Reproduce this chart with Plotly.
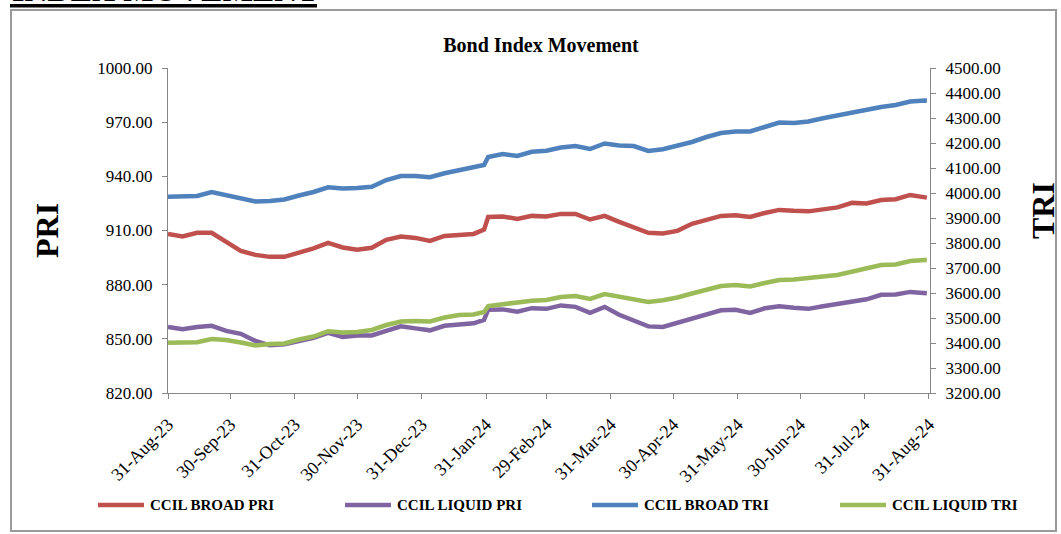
import plotly.graph_objects as go

dates = [
    "2023-08-31", "2023-09-07", "2023-09-14", "2023-09-21", "2023-09-28",
    "2023-10-05", "2023-10-12", "2023-10-19", "2023-10-26", "2023-11-02",
    "2023-11-09", "2023-11-16", "2023-11-23", "2023-11-30", "2023-12-07",
    "2023-12-14", "2023-12-21", "2023-12-28", "2024-01-04", "2024-01-11",
    "2024-01-18", "2024-01-25", "2024-01-30", "2024-02-01", "2024-02-08",
    "2024-02-15", "2024-02-22", "2024-02-29", "2024-03-07", "2024-03-14",
    "2024-03-21", "2024-03-28", "2024-04-04", "2024-04-11", "2024-04-18",
    "2024-04-25", "2024-05-02", "2024-05-09", "2024-05-16", "2024-05-23",
    "2024-05-30", "2024-06-06", "2024-06-13", "2024-06-20", "2024-06-27",
    "2024-07-04", "2024-07-11", "2024-07-18", "2024-07-25", "2024-08-01",
    "2024-08-08", "2024-08-15", "2024-08-22", "2024-08-29", "2024-08-30",
]

broad_pri = [
    908.1, 906.7, 908.7, 908.7, 903.7, 898.7, 896.5, 895.4, 895.4, 897.6,
    900.1, 903.1, 900.6, 899.3, 900.4, 904.8, 906.7, 905.9, 904.2, 907.0,
    907.3, 908.1, 910.5, 917.5, 917.8, 916.4, 918.1, 917.8, 919.2, 919.2,
    916.1, 918.1, 914.8, 912.0, 908.7, 908.4, 909.8, 913.7, 915.6, 918.1,
    918.4, 917.5, 919.7, 921.4, 920.9, 920.6, 921.7, 922.8, 925.3, 925.0,
    926.9, 927.3, 929.7, 928.6, 928.2,
]

liquid_pri = [
    856.5, 855.3, 856.6, 857.2, 854.4, 852.8, 848.9, 846.4, 847.0, 848.6,
    850.6, 853.3, 851.1, 851.9, 851.9, 854.4, 856.9, 855.8, 854.7, 857.2,
    857.7, 858.6, 860.5, 866.1, 866.3, 865.0, 867.0, 866.6, 868.5, 867.7,
    864.4, 867.7, 863.3, 860.2, 856.9, 856.6, 858.9, 861.3, 863.8, 865.8,
    866.1, 864.4, 866.9, 868.0, 867.2, 866.6, 868.0, 869.4, 871.0, 871.9,
    874.4, 874.6, 876.0, 875.5, 875.3,
]

broad_tri = [
    3985, 3986, 3988, 4004, 3992, 3976, 3966, 3968, 3974, 3990,
    4004, 4023, 4018, 4020, 4025, 4052, 4068, 4068, 4063, 4079,
    4092, 4102, 4112, 4144, 4156, 4148, 4165, 4169, 4182, 4188,
    4176, 4198, 4190, 4188, 4168, 4175, 4188, 4204, 4224, 4240,
    4246, 4246, 4264, 4282, 4280, 4286, 4299, 4310, 4324, 4334,
    4344, 4352, 4366, 4370, 4369,
]

liquid_tri = [
    3401, 3401, 3403, 3416, 3412, 3402, 3390, 3396, 3398, 3414,
    3426, 3447, 3442, 3444, 3452, 3472, 3486, 3488, 3486, 3502,
    3512, 3514, 3524, 3548, 3556, 3562, 3569, 3572, 3584, 3588,
    3576, 3596, 3584, 3574, 3564, 3571, 3582, 3598, 3612, 3628,
    3632, 3626, 3640, 3652, 3654, 3658, 3666, 3672, 3686, 3699,
    3712, 3714, 3728, 3732, 3732,
]

tick_dates = [
    "2023-08-31", "2023-09-30", "2023-10-31", "2023-11-30", "2023-12-31",
    "2024-01-31", "2024-02-29", "2024-03-31", "2024-04-30", "2024-05-31",
    "2024-06-30", "2024-07-31", "2024-08-31",
]
tick_labels = [
    "31-Aug-23", "30-Sep-23", "31-Oct-23", "30-Nov-23", "31-Dec-23",
    "31-Jan-24", "29-Feb-24", "31-Mar-24", "30-Apr-24", "31-May-24",
    "30-Jun-24", "31-Jul-24", "31-Aug-24",
]

series_names = ["CCIL BROAD PRI", "CCIL LIQUID PRI", "CCIL BROAD TRI", "CCIL LIQUID TRI"]
series_colors = ["#C0504D", "#8064A2", "#4F81BD", "#9BBB59"]

FONT = "Liberation Serif"
AX = "#868686"

W, H = 1061, 534
L, R, T, B = 168, 131, 68, 141
PW = W - L - R
PH = H - T - B


def px_x(x):
    return (x - L) / PW


def px_y(y):
    return (H - B - y) / PH


fig = go.Figure()
series_values = [broad_pri, liquid_pri, broad_tri, liquid_tri]
series_axes = ["y", "y", "y2", "y2"]
for name, vals, col, ax in zip(series_names, series_values, series_colors, series_axes):
    fig.add_trace(go.Scatter(x=dates, y=vals, name=name, mode="lines", yaxis=ax,
                             showlegend=False, line=dict(color=col, width=4.5)))

# legend drawn as line samples + labels
legend_starts = [98, 345, 592, 840]
shapes = [
    dict(type="rect", xref="paper", yref="paper",
         x0=px_x(11), x1=px_x(1056), y0=px_y(531), y1=px_y(10),
         line=dict(color="#9a9a9a", width=2), fillcolor="rgba(0,0,0,0)", layer="below"),
    dict(type="rect", xref="paper", yref="paper",
         x0=px_x(10), x1=px_x(317), y0=px_y(7.5), y1=px_y(4),
         line=dict(width=0), fillcolor="black"),
]
annotations = [
    dict(text="<b>PRI</b>", xref="paper", yref="paper", x=px_x(47), y=px_y(231),
         xanchor="center", yanchor="middle", textangle=-90, showarrow=False,
         font=dict(family=FONT, size=32, color="black")),
    dict(text="<b>TRI</b>", xref="paper", yref="paper", x=px_x(1043), y=px_y(211),
         xanchor="center", yanchor="middle", textangle=-90, showarrow=False,
         font=dict(family=FONT, size=32, color="black")),
    dict(text="<b>INDEX MOVEMENT</b>", xref="paper", yref="paper", x=px_x(10), y=px_y(10),
         xanchor="left", yanchor="bottom", showarrow=False,
         font=dict(family=FONT, size=32, color="black")),
]
for name, col, xs in zip(series_names, series_colors, legend_starts):
    shapes.append(dict(type="line", xref="paper", yref="paper",
                       x0=px_x(xs), x1=px_x(xs + 46), y0=px_y(505), y1=px_y(505),
                       line=dict(color=col, width=4.5)))
    annotations.append(dict(text="<b>" + name + "</b>", xref="paper", yref="paper",
                            x=px_x(xs + 50), y=px_y(505), xanchor="left", yanchor="middle",
                            showarrow=False,
                            font=dict(family=FONT, size=15, color="black")))

fig.update_layout(
    width=W, height=H,
    margin=dict(l=L, r=R, t=T, b=B, autoexpand=False),
    paper_bgcolor="white", plot_bgcolor="white",
    font=dict(family=FONT, color="black", size=17),
    title=dict(text="<b>Bond Index Movement</b>", x=541 / W, xanchor="center",
               y=1 - 45 / H, yanchor="middle",
               font=dict(family=FONT, size=20, color="black")),
    xaxis=dict(type="date", range=["2023-08-31", "2024-08-31 12:00"],
               tickvals=tick_dates, ticktext=tick_labels, tickangle=-45,
               showgrid=False, zeroline=False, showline=True, linecolor=AX, linewidth=1,
               ticks="outside", ticklen=5, tickcolor=AX, ticklabelstandoff=8,
               tickfont=dict(family=FONT, size=18, color="black")),
    yaxis=dict(range=[820, 1000], dtick=30, tick0=820, tickformat=".2f",
               showgrid=False, zeroline=False, showline=True, linecolor=AX, linewidth=1,
               ticks="outside", ticklen=5, tickcolor=AX, ticklabelstandoff=6,
               tickfont=dict(family=FONT, size=17, color="black")),
    yaxis2=dict(range=[3200, 4500], dtick=100, tick0=3200, tickformat=".2f",
                overlaying="y", side="right",
                showgrid=False, zeroline=False, showline=True, linecolor=AX, linewidth=1,
                ticks="outside", ticklen=5, tickcolor=AX, ticklabelstandoff=6,
                tickfont=dict(family=FONT, size=17, color="black")),
    showlegend=False,
    shapes=shapes,
    annotations=annotations,
)

fig.write_html("out.html", config={"displayModeBar": False},
               post_script="document.body.style.margin='0px';")
